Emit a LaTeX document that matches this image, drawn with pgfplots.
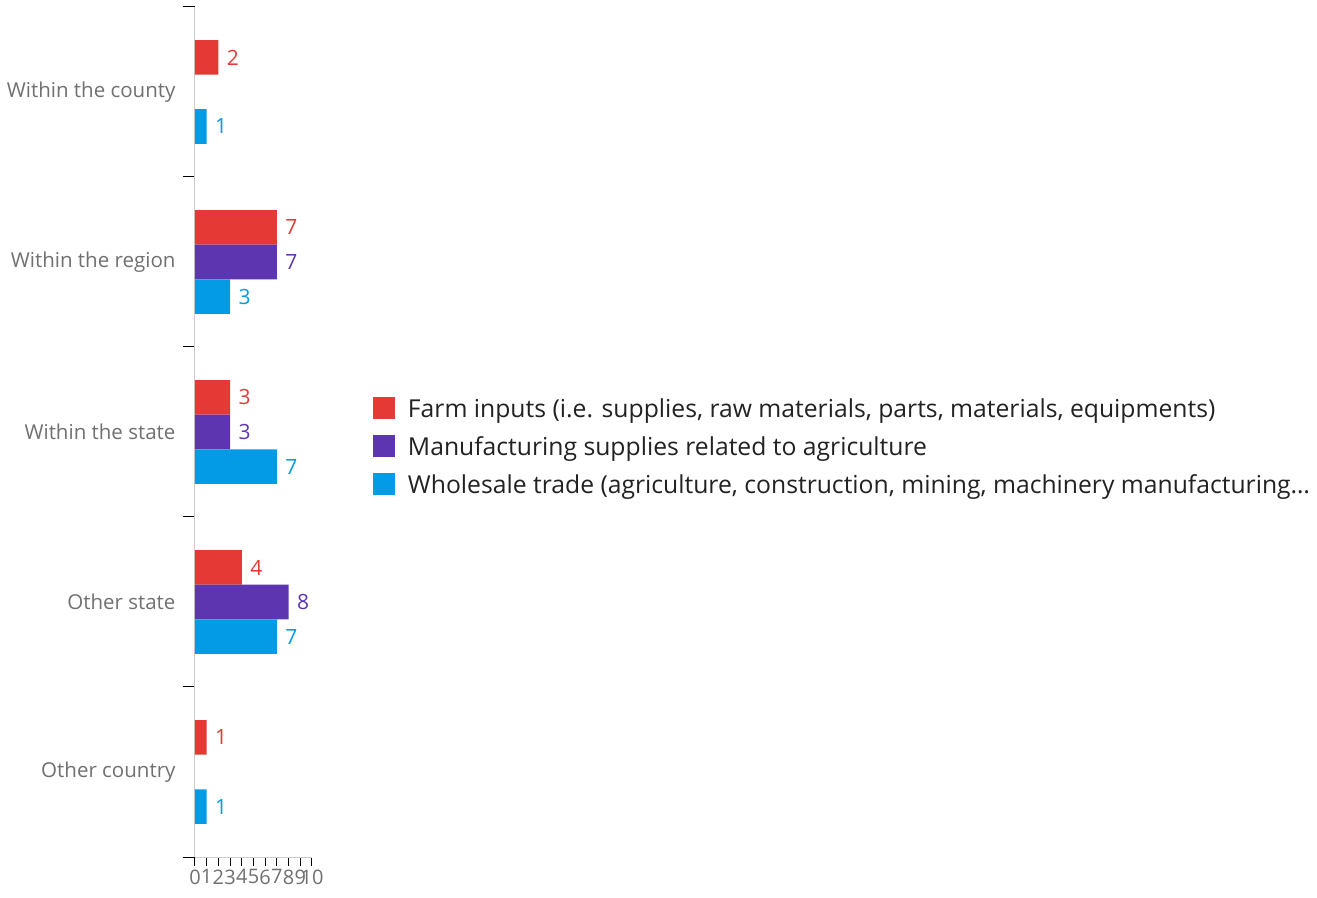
\documentclass[border=0pt]{standalone}
\usepackage{pgfplots}
\pgfplotsset{compat=1.18}
\usepackage{fontspec}
\setmainfont{Open Sans}
\definecolor{cred}{HTML}{E53935}
\definecolor{cpur}{HTML}{5E35B1}
\definecolor{cblue}{HTML}{039BE5}
\definecolor{cline}{HTML}{CCCCCC}
\definecolor{clab}{HTML}{707070}
\definecolor{cleg}{HTML}{222222}
\newcommand\fs{\fontsize{20.5}{24}\selectfont}
\newcommand\fn{\fontsize{21}{25}\selectfont}
\newcommand\fx{\fontsize{20}{24}\selectfont}
\newcommand\fl{\fontsize{24.7}{30}\selectfont}
\begin{document}
\begin{tikzpicture}
\begin{axis}[
  scale only axis, width=117pt, height=850pt,
  xmin=0, xmax=10, ymin=-0.5, ymax=4.5,
  xbar, bar width=0.203,
  axis x line=bottom, axis y line=left,
  axis line style={-, cline, line width=1pt},
  tick align=outside,
  xtick={0,1,...,10},
  ytick={0,1,2,3,4},
  yticklabels={Other country, Other state, Within the state, Within the region, Within the county},
  minor ytick={-0.5,0.5,1.5,2.5,3.5,4.5},
  major tick length=9pt, minor tick length=12pt,
  every major x tick/.append style={black, line width=1pt},
  every major y tick/.append style={draw=none},
  every minor y tick/.append style={black, line width=1pt},
  /pgf/number format/assume math mode=true,
  xticklabel style={font=\fx, text=clab},
  yticklabel style={font=\fs, text=clab, xshift=-7pt},
  nodes near coords,
  every node near coord/.append style={font=\fn, xshift=5pt},
  legend style={draw=none, fill=none, at={(1,0.4835)}, anchor=west, xshift=61pt, yshift=-3pt,
    font=\fl, text=cleg, inner sep=0pt, outer sep=0pt, row sep=10pt,
    nodes={text height=18pt, text depth=6pt},
    legend cell align=left},
  legend image code/.code={\fill[#1] (0pt,-8pt) rectangle (22pt,14pt); \path (33pt,0pt);},
]
\coordinate (BL) at (rel axis cs:0,0);
\addplot[fill=cred, draw=none, bar shift=0.203, every node near coord/.append style={text=cred}]
  coordinates {(2,4) (7,3) (3,2) (4,1) (1,0)};
\addlegendentry{Farm inputs (i.e. supplies, raw materials, parts, materials, equipments)}
\addplot[fill=cpur, draw=none, bar shift=0, every node near coord/.append style={text=cpur}]
  coordinates {(7,3) (3,2) (8,1)};
\addlegendentry{Manufacturing supplies related to agriculture}
\addplot[fill=cblue, draw=none, bar shift=-0.203, every node near coord/.append style={text=cblue}]
  coordinates {(1,4) (3,3) (7,2) (7,1) (1,0)};
\addlegendentry{Wholesale trade (agriculture, construction, mining, machinery manufacturing…}
\end{axis}
\pgfresetboundingbox
\path[use as bounding box] ([shift={(-195pt,-40pt)}]BL) rectangle ([shift={(1122pt,857pt)}]BL);
\end{tikzpicture}
\end{document}
